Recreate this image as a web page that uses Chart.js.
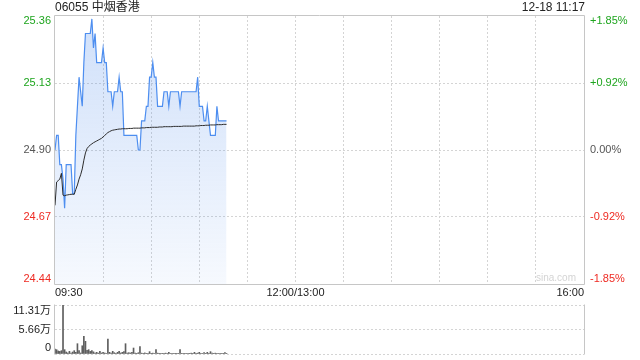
<!DOCTYPE html>
<html>
<head>
<meta charset="utf-8">
<script src="https://cdn.jsdelivr.net/npm/chart.js@4"></script>
<style>
html,body{margin:0;padding:0;background:#fff;}
#wrap{position:relative;width:640px;height:360px;overflow:hidden;font-family:"Liberation Sans",Arial,"Noto Sans CJK SC",sans-serif;}
#c1{position:absolute;left:0;top:0;}
#c2{position:absolute;left:0;top:280px;}
.t{position:absolute;font-size:12px;color:#222;white-space:nowrap;line-height:14px;}
</style>
</head>
<body>
<div id="wrap">
<canvas id="c1" width="640" height="300"></canvas>
<canvas id="c2" width="640" height="100"></canvas>
<div class="t" style="left:55px;top:0px;">06055 中烟香港</div>
<div class="t" style="right:55px;top:0px;">12-18 11:17</div>
<div class="t" style="right:64px;top:271px;color:#d4d4d4;font-size:10px;">sina.com</div>
</div>
<script>
// ---- data (one value per trading minute from 09:30) ----
const prevClose = 24.90;
const prices = [
24.90,24.95,24.95,24.85,24.85,24.80,24.70,24.85,24.85,24.85,
24.85,24.75,24.75,24.95,25.05,25.15,25.10,25.05,25.20,25.30,
25.30,25.30,25.30,25.35,25.25,25.30,25.20,25.20,25.20,25.20,
25.25,25.20,25.20,25.10,25.10,25.10,25.05,25.10,25.10,25.10,
25.15,25.10,25.10,24.95,24.95,24.95,24.95,24.95,24.95,24.95,
24.95,24.95,24.90,24.90,25.00,25.00,25.00,25.05,25.05,25.15,
25.15,25.20,25.15,25.15,25.05,25.05,25.05,25.05,25.10,25.10,
25.10,25.05,25.10,25.10,25.10,25.10,25.10,25.10,25.05,25.10,
25.10,25.10,25.10,25.10,25.10,25.10,25.10,25.10,25.10,25.15,
25.05,25.05,25.05,25.00,25.00,25.05,25.00,24.95,24.95,24.95,
24.95,25.05,25.00,25.00,25.00,25.00,25.00,25.00
];
const avgPrices = [
24.710,24.790,24.795,24.800,24.820,24.745,24.743,24.745,24.746,24.747,
24.748,24.748,24.748,24.765,24.780,24.800,24.815,24.835,24.865,24.890,
24.905,24.912,24.917,24.921,24.925,24.928,24.931,24.934,24.937,24.940,
24.945,24.950,24.955,24.960,24.963,24.966,24.968,24.969,24.970,24.971,
24.972,24.972,24.973,24.973,24.973,24.973,24.974,24.974,24.974,24.975,
24.975,24.975,24.975,24.975,24.976,24.976,24.976,24.977,24.977,24.977,
24.978,24.978,24.978,24.978,24.978,24.979,24.979,24.979,24.980,24.980,
24.980,24.980,24.980,24.980,24.981,24.981,24.981,24.981,24.981,24.981,
24.982,24.982,24.982,24.982,24.982,24.982,24.982,24.982,24.983,24.983,
24.983,24.984,24.984,24.984,24.985,24.985,24.985,24.986,24.986,24.986,
24.986,24.987,24.987,24.987,24.987,24.988,24.988,24.988
];
const volumes = [
11500,10000,7000,6000,7700,113100,10000,4600,2300,6200,
2300,4600,7700,3800,23800,8000,2300,19000,40800,29200,
8500,10000,6000,7700,5000,2300,3800,2000,6200,2300,
3800,2300,1000,34600,3800,2300,6200,3000,1500,3800,
6000,2300,3800,5400,23800,2300,3000,2300,3800,13800,
2000,1500,3000,17000,2000,1500,2500,1500,1000,5400,
1500,2000,1000,10000,2000,1500,1000,1500,1000,2000,
1000,3800,1000,1500,1000,1500,1000,1500,10000,1500,
1000,1500,1000,1000,1500,2000,1000,3800,1500,2000,
3800,1500,1000,3000,1500,3800,1500,5400,2000,1500,
2000,1500,1000,1500,1000,1500,3000,1500
];
// ---- ticks ----
const priceTicks = [24.44, 24.67, 24.90, 25.13, 25.36];
const volTicks = [0, 56550, 113100];
const volTickLabels = ['0', '5.66万', '11.31万'];
const timeGrid = [0,30,60,90,120,150,180,210,240,270,300,330];
const timeLabelValues = [0, 150, 330];
const timeLabelTexts = ['09:30', '12:00/13:00', '16:00'];

const FONT = '"Liberation Sans", Arial, "Noto Sans CJK SC", sans-serif';
const UP = '#1ea51e', DOWN = '#ee2a22', FLAT = '#555555';
const GRID = '#d4d4d4', FRAME = '#c6c6c6';

function tickColor(v){ if (v > prevClose + 1e-9) return UP; if (v < prevClose - 1e-9) return DOWN; return FLAT; }
function pctLabel(v){
  const p = (v - prevClose) / prevClose * 100;
  const s = Math.abs(p).toFixed(2);
  return (p > 1e-6 ? '+' : (p < -1e-6 ? '-' : '')) + s + '%';
}
function edge(text, index, count){
  if (index === 0) return [text, ''];
  if (index === count - 1) return ['', text];
  return text;
}
const framePlugin = {
  id: 'frame',
  beforeDatasetsDraw(chart, args, opts){
    const {ctx, chartArea:{left, top, right, bottom}} = chart;
    ctx.save();
    ctx.strokeStyle = opts.color; ctx.lineWidth = 1;
    ctx.beginPath();
    const l = left - 0.5, r = right + 0.5, t = top - 0.5, b = bottom + 0.5;
    if (opts.sides === 'all') { ctx.rect(l, t, r - l, b - t); }
    else { ctx.moveTo(l, t); ctx.lineTo(l, b); ctx.moveTo(r, t); ctx.lineTo(r, b); }
    ctx.stroke();
    ctx.restore();
  }
};

const pts = arr => arr.map((v, i) => ({x: i, y: v}));

new Chart(document.getElementById('c1'), {
  type: 'line',
  data: {
    datasets: [
      { label: '均价', data: pts(avgPrices), borderColor: '#2b2b2b', borderWidth: 1, pointRadius: 0, fill: false, tension: 0 },
      { label: '价格', data: pts(prices), borderColor: '#4d8ef0', borderWidth: 1.2, pointRadius: 0, tension: 0,
        fill: 'start',
        backgroundColor: (c) => {
          const a = c.chart.chartArea;
          if (!a) return 'rgba(0,0,0,0)';
          const g = c.chart.ctx.createLinearGradient(0, a.top, 0, a.bottom);
          g.addColorStop(0, 'rgba(80,140,235,0.27)');
          g.addColorStop(1, 'rgba(80,140,235,0.05)');
          return g;
        } }
    ]
  },
  options: {
    responsive: false, animation: false, devicePixelRatio: 1, events: [],
    layout: { padding: { top: 15, left: 0, right: 0, bottom: 0 } },
    plugins: { legend: { display: false }, tooltip: { enabled: false }, frame: { color: FRAME, sides: 'all' } },
    scales: {
      x: {
        type: 'linear', min: 0, max: 330, position: 'bottom',
        afterBuildTicks: s => { s.ticks = timeGrid.map(v => ({value: v})); },
        afterFit: s => { s.height = 16; },
        grid: { color: c => (c.tick && (c.tick.value === 0 || c.tick.value === 330)) ? 'rgba(0,0,0,0)' : GRID, drawTicks: false, lineWidth: 1 },
        border: { display: false, dash: [2, 2] },
        ticks: { autoSkip: false, maxRotation: 0, align: 'inner', padding: 2, color: '#222',
          font: { size: 11, family: FONT },
          callback: v => { const k = timeLabelValues.indexOf(v); return k < 0 ? '' : timeLabelTexts[k]; } }
      },
      y: {
        position: 'left', min: priceTicks[0], max: priceTicks[priceTicks.length - 1],
        afterBuildTicks: s => { s.ticks = priceTicks.map(v => ({value: v})); },
        afterFit: s => { s.width = 55; },
        grid: { color: c => (c.index === 0 || c.index === priceTicks.length - 1) ? 'rgba(0,0,0,0)' : GRID, drawTicks: false },
        border: { display: false, dash: [2, 2] },
        ticks: { autoSkip: false, padding: 4, color: c => tickColor(c.tick.value),
          font: { size: 11, family: FONT, lineHeight: '10px' },
          callback: (v, i, t) => edge(v.toFixed(2), i, t.length) }
      },
      y2: {
        position: 'right', min: priceTicks[0], max: priceTicks[priceTicks.length - 1],
        afterBuildTicks: s => { s.ticks = priceTicks.map(v => ({value: v})); },
        afterFit: s => { s.width = 56; },
        grid: { drawOnChartArea: false, drawTicks: false },
        border: { display: false },
        ticks: { autoSkip: false, padding: 6, color: c => tickColor(c.tick.value),
          font: { size: 11, family: FONT, lineHeight: '10px' },
          callback: (v, i, t) => edge(pctLabel(v), i, t.length) }
      }
    }
  },
  plugins: [framePlugin]
});

// volume panel: canvas top 280, plot area 305..354 on the page
new Chart(document.getElementById('c2'), {
  type: 'bar',
  data: {
    datasets: [
      { label: '成交量', data: pts(volumes), backgroundColor: '#5e5e5e', borderWidth: 0, barThickness: 1 }
    ]
  },
  options: {
    responsive: false, animation: false, devicePixelRatio: 1, events: [],
    layout: { padding: { top: 25, left: 0, right: 56, bottom: 26 } },
    plugins: { legend: { display: false }, tooltip: { enabled: false }, frame: { color: FRAME, sides: 'lr' } },
    scales: {
      x: { type: 'linear', min: 0, max: 330, display: false, offset: false, grid: { offset: false } },
      y: {
        position: 'left', min: volTicks[0], max: volTicks[volTicks.length - 1],
        afterBuildTicks: s => { s.ticks = volTicks.map(v => ({value: v})); },
        afterFit: s => { s.width = 55; },
        grid: { color: GRID, drawTicks: false },
        border: { display: false, dash: [2, 2] },
        ticks: { autoSkip: false, padding: 4, color: '#222',
          font: { size: 11, family: FONT, lineHeight: '12px' },
          callback: (v, i, t) => edge(volTickLabels[volTicks.indexOf(v)], i, t.length) }
      }
    }
  },
  plugins: [framePlugin]
});
</script>
</body>
</html>
